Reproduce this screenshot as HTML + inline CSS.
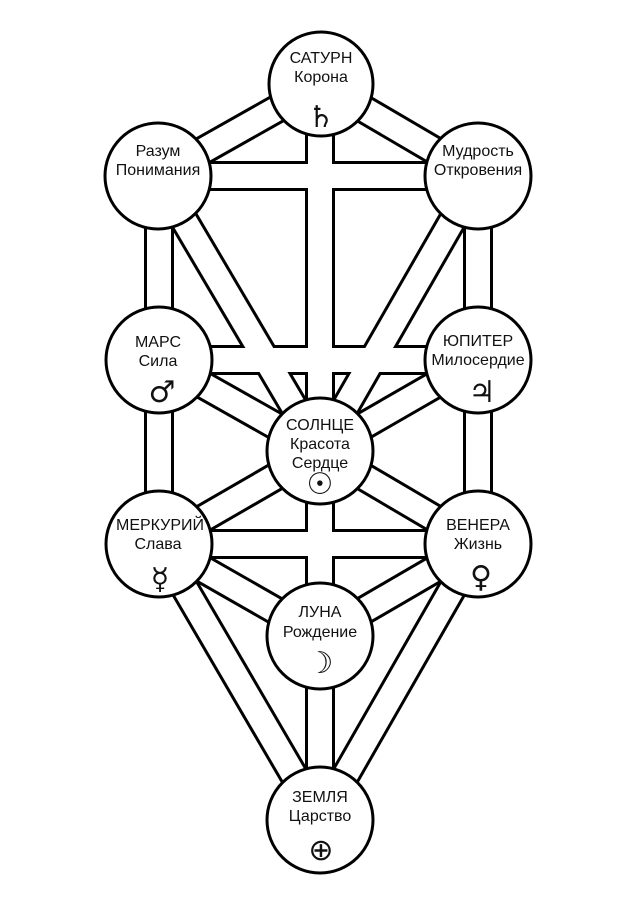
<!DOCTYPE html>
<html><head><meta charset="utf-8"><style>
html,body{margin:0;padding:0;background:#fff;}
svg{display:block}
text{font-family:"Liberation Sans",sans-serif;font-size:16px;fill:#111;text-anchor:middle}
.s{font-family:"DejaVu Sans",sans-serif;font-size:30px}
</style></head><body>
<svg width="640" height="905" viewBox="0 0 640 905" xmlns="http://www.w3.org/2000/svg">
<defs>
<g id="paths">
<line x1="321" y1="84" x2="158" y2="176"/>
<line x1="321" y1="84" x2="478" y2="176"/>
<line x1="320" y1="84" x2="320" y2="451"/>
<line x1="158" y1="176" x2="478" y2="176"/>
<line x1="159" y1="176" x2="159" y2="544"/>
<line x1="478" y1="176" x2="478" y2="544"/>
<line x1="158" y1="176" x2="320" y2="451"/>
<line x1="478" y1="176" x2="320" y2="451"/>
<line x1="159" y1="360" x2="478" y2="360"/>
<line x1="159" y1="360" x2="320" y2="451"/>
<line x1="478" y1="360" x2="320" y2="451"/>
<line x1="320" y1="451" x2="159" y2="544"/>
<line x1="320" y1="451" x2="478" y2="544"/>
<line x1="320" y1="451" x2="320" y2="820"/>
<line x1="159" y1="544" x2="478" y2="544"/>
<line x1="159" y1="544" x2="320" y2="636"/>
<line x1="478" y1="544" x2="320" y2="636"/>
<line x1="159" y1="544" x2="320" y2="820"/>
<line x1="478" y1="544" x2="320" y2="820"/>
</g>
</defs>
<use href="#paths" stroke="#000" stroke-width="30"/>
<use href="#paths" stroke="#fff" stroke-width="24"/>
<g fill="#fff" stroke="#000" stroke-width="3">
<circle cx="321" cy="84" r="52"/>
<circle cx="158" cy="176" r="53"/>
<circle cx="478" cy="176" r="53"/>
<circle cx="159" cy="360" r="53"/>
<circle cx="478" cy="360" r="53"/>
<circle cx="320" cy="451" r="53"/>
<circle cx="159" cy="544" r="53"/>
<circle cx="478" cy="544" r="53"/>
<circle cx="320" cy="636" r="53"/>
<circle cx="320" cy="820" r="53"/>
</g>
<text x="321" y="63">САТУРН</text><text x="321" y="82">Корона</text><text class="s" x="321" y="127">♄</text>
<text x="158" y="156">Разум</text><text x="158" y="175">Понимания</text>
<text x="478" y="156">Мудрость</text><text x="478" y="175">Откровения</text>
<text x="158" y="347">МАРС</text><text x="158" y="366">Сила</text><text class="s" x="162" y="402">♂</text>
<text x="478" y="346">ЮПИТЕР</text><text x="478" y="365">Милосердие</text><text class="s" x="482" y="402">♃</text>
<text x="320" y="430">СОЛНЦЕ</text><text x="320" y="449">Красота</text><text x="320" y="468">Сердце</text><text class="s" x="320" y="494">☉</text>
<text x="160" y="530">МЕРКУРИЙ</text><text x="158" y="549">Слава</text><text class="s" x="160" y="589">☿</text>
<text x="478" y="530">ВЕНЕРА</text><text x="478" y="549">Жизнь</text><text class="s" x="481" y="587">♀</text>
<text x="320" y="617">ЛУНА</text><text x="320" y="637">Рождение</text><text class="s" x="320" y="673">☽</text>
<text x="320" y="802">ЗЕМЛЯ</text><text x="320" y="821">Царство</text><text class="s" x="321" y="860">⊕</text>
</svg>
</body></html>
